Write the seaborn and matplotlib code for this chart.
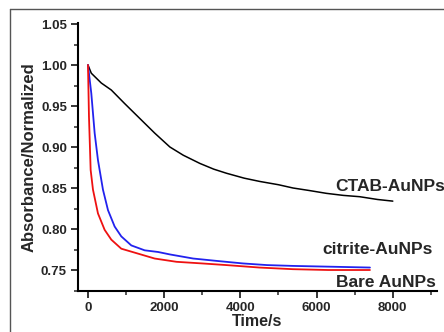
import matplotlib
matplotlib.use("Agg")
import matplotlib.pyplot as plt
import seaborn as sns
from matplotlib.lines import Line2D
from matplotlib.ticker import MultipleLocator

# values
ctab_t = [0, 87, 350, 612, 962, 1312, 1750, 2150, 2500, 2936,
          3300, 3635, 4100, 4509, 5000, 5382, 5800, 6256, 6700, 7130, 7600, 8000]
ctab_a = [1.000, 0.990, 0.978, 0.9695, 0.953, 0.937, 0.917, 0.900, 0.890, 0.880,
          0.873, 0.868, 0.862, 0.858, 0.854, 0.850, 0.847, 0.8435, 0.841, 0.8394,
          0.836, 0.834]

citrate_t = [0, 87, 175, 262, 393, 525, 700, 874, 1137, 1488, 1837, 2150, 2760,
             3400, 4070, 4700, 5380, 6400, 7400]
citrate_a = [1.000, 0.9655, 0.917, 0.884, 0.848, 0.823, 0.803, 0.791, 0.780, 0.774,
             0.772, 0.769, 0.764, 0.761, 0.758, 0.756, 0.755, 0.754, 0.753]

bare_t = [0, 26, 70, 131, 262, 437, 612, 874, 1312, 1750, 2324, 3000, 3635, 4500,
          5380, 6300, 7130, 7400]
bare_a = [1.000, 0.937, 0.872, 0.848, 0.819, 0.799, 0.787, 0.776, 0.770, 0.764,
          0.760, 0.758, 0.756, 0.753, 0.751, 0.750, 0.750, 0.750]

labels = ["CTAB-AuNPs", "citrite-AuNPs", "Bare AuNPs"]
x_ticks = [0, 2000, 4000, 6000, 8000]
y_ticks = [0.75, 0.80, 0.85, 0.90, 0.95, 1.00, 1.05]

sns.set_style("ticks")
plt.rcParams["font.family"] = ["Liberation Sans", "DejaVu Sans"]
plt.rcParams["font.weight"] = "bold"

fig = plt.figure(figsize=(4.44, 3.32), dpi=100)
ax = fig.add_axes([78 / 444, 1 - 291 / 332, (437 - 78) / 444, (291 - 22.7) / 332])

sns.lineplot(x=ctab_t, y=ctab_a, ax=ax, color="black", linewidth=1.1)
sns.lineplot(x=citrate_t, y=citrate_a, ax=ax, color="#2222ee", linewidth=1.3)
sns.lineplot(x=bare_t, y=bare_a, ax=ax, color="#ee1111", linewidth=1.3)

ax.set_xlim(-262, 9160)
ax.set_ylim(0.7244, 1.0516)
ax.set_xticks(x_ticks)
ax.set_yticks(y_ticks)
ax.set_yticklabels([f"{v:.2f}" for v in y_ticks])
ax.xaxis.set_minor_locator(MultipleLocator(1000))
ax.yaxis.set_minor_locator(MultipleLocator(0.025))
ax.tick_params(which="major", direction="out", length=5, width=1.3, labelsize=9.5, pad=3)
ax.tick_params(which="minor", direction="out", length=3, width=1.1)
for lab in ax.get_xticklabels() + ax.get_yticklabels():
    lab.set_fontweight("bold")

for side in ["top", "right"]:
    ax.spines[side].set_visible(False)
for side in ["left", "bottom"]:
    ax.spines[side].set_linewidth(1.5)
    ax.spines[side].set_color("black")

ax.set_xlabel("Time/s", fontsize=11.5, fontweight="bold", labelpad=0)
ax.set_ylabel("Absorbance/Normalized", fontsize=12, fontweight="bold", labelpad=3)

ax.text(6500, 0.852, labels[0], fontsize=12.5, fontweight="bold", va="center", clip_on=False)
ax.text(6150, 0.7755, labels[1], fontsize=12.5, fontweight="bold", va="center")
ax.text(6500, 0.7345, labels[2], fontsize=12.5, fontweight="bold", va="center")

# picture frame
fig.add_artist(Line2D([10 / 444, 10 / 444], [0, 1 - 9 / 332], color="#555555", linewidth=1.0))
fig.add_artist(Line2D([10 / 444, 1], [1 - 9 / 332, 1 - 9 / 332], color="#555555", linewidth=1.0))

fig.savefig("out.png", dpi=100)
